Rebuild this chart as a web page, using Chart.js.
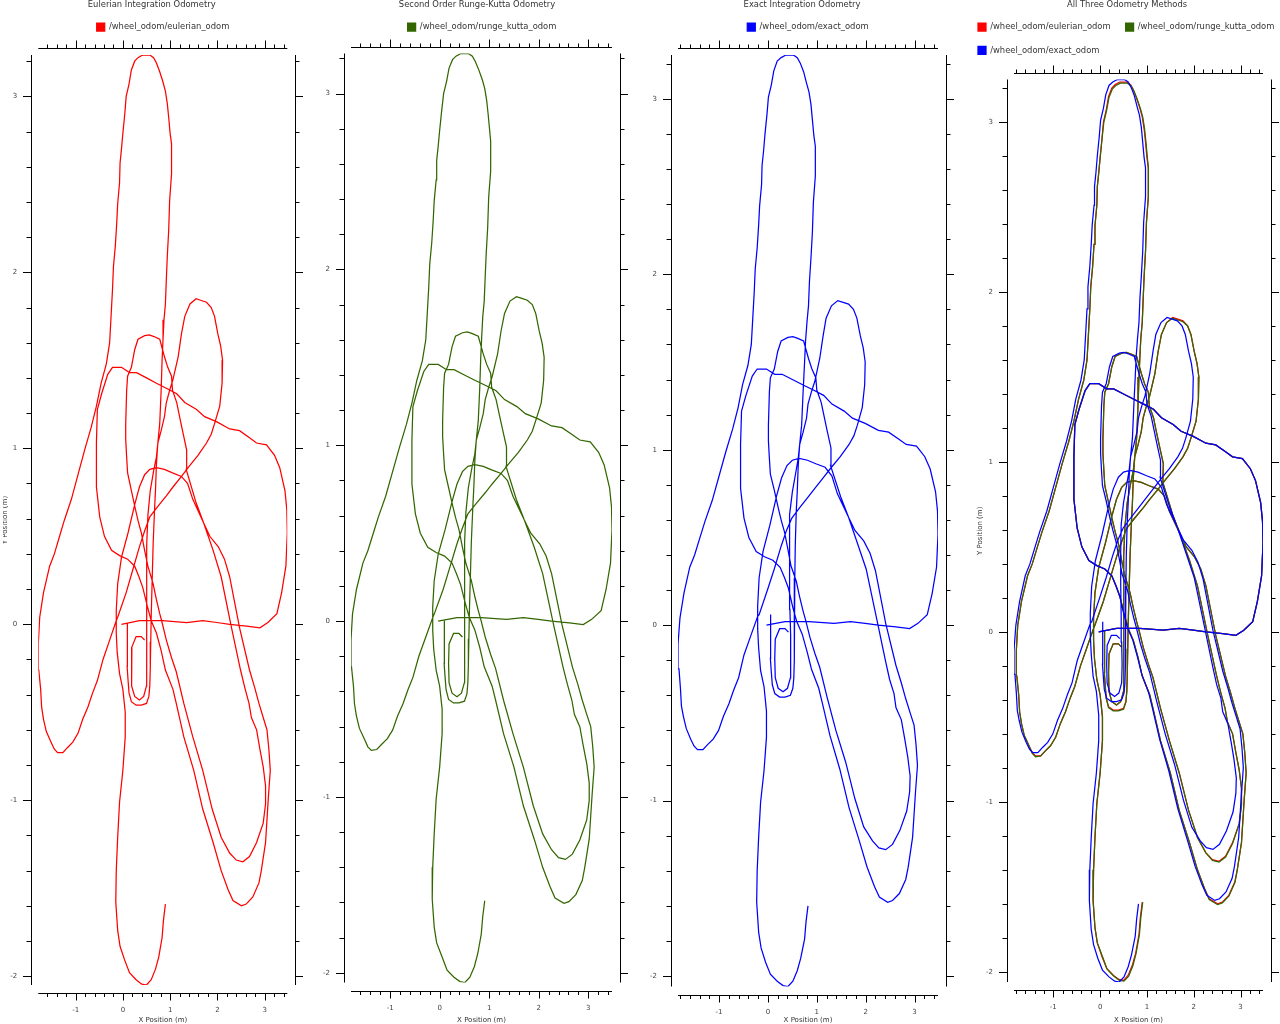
<!DOCTYPE html>
<html><head><meta charset="utf-8">
<script src="https://cdn.jsdelivr.net/npm/chart.js@4.4.1/dist/chart.umd.min.js"></script>
<style>
html,body{margin:0;padding:0;background:#fff;overflow:hidden;width:1280px;height:1024px;}
.panel{position:absolute;top:0;}
canvas{display:block;}
</style></head><body>
<div class="panel" style="left:3px"><canvas id="c1" width="320" height="1024" style="width:320px;height:1024px"></canvas></div>
<div class="panel" style="left:322px"><canvas id="c2" width="320" height="1024" style="width:320px;height:1024px"></canvas></div>
<div class="panel" style="left:648px"><canvas id="c3" width="320" height="1024" style="width:320px;height:1024px"></canvas></div>
<div class="panel" style="left:963px"><canvas id="c4" width="336" height="1024" style="width:336px;height:1024px"></canvas></div>
<script>
// ---- Data (metres); null = pen lift ----
const eulerianOdom = [
[-0.03,0.00],[0.35,0.02],[0.84,0.02],[1.35,0.01],[1.69,0.02],[1.99,0.01],[2.26,0.00],[2.62,-0.01],[2.90,-0.02],[3.07,0.01],[3.26,0.06],[3.36,0.18],[3.45,0.33],[3.48,0.52],[3.47,0.65],[3.43,0.76],[3.32,0.89],[3.21,0.96],[3.04,1.02],[2.83,1.03],[2.68,1.06],[2.47,1.10],[2.26,1.11],[1.99,1.15],[1.73,1.18],[1.56,1.22],[1.31,1.26],[1.14,1.31],[0.93,1.34],[0.71,1.37],[0.50,1.40],[0.29,1.43],[0.14,1.43],[-0.03,1.46],[-0.22,1.46],[-0.32,1.42],[-0.45,1.31],[-0.54,1.22],[-0.56,1.03],[-0.56,0.78],[-0.49,0.61],[-0.39,0.50],[-0.24,0.42],[-0.07,0.39],[0.10,0.37],[0.25,0.33],
[0.34,0.27],[0.42,0.21],[0.52,0.10],[0.60,0.02],[0.71,-0.05],[0.81,-0.15],[0.90,-0.26],[1.06,-0.37],[1.13,-0.45],[1.29,-0.64],[1.50,-0.83],[1.69,-1.05],[1.91,-1.24],[2.08,-1.40],[2.23,-1.51],[2.33,-1.57],[2.51,-1.60],[2.61,-1.59],[2.75,-1.55],[2.88,-1.47],[2.93,-1.40],[3.02,-1.24],[3.05,-1.11],[3.08,-0.98],[3.12,-0.83],[3.09,-0.71],[3.05,-0.60],[2.97,-0.53],[2.88,-0.45],[2.79,-0.36],[2.68,-0.26],[2.47,-0.02],[2.26,0.27],[2.15,0.37],[2.02,0.44],[1.84,0.50],[1.71,0.575],
[1.55,0.69],[1.34,0.88],[1.35,0.99],[1.27,1.09],[1.20,1.18],[1.14,1.26],[1.05,1.33],[1.03,1.41],[0.95,1.46],[0.88,1.52],[0.84,1.56],[0.78,1.62],[0.66,1.635],[0.56,1.645],[0.46,1.64],[0.32,1.62],[0.25,1.56],[0.18,1.46],[0.10,1.41],[0.08,1.33],[0.06,1.14],[0.06,1.05],[0.08,0.95],[0.10,0.86],[0.18,0.76],[0.26,0.66],[0.32,0.59],[0.39,0.52],[0.46,0.42],[0.53,0.33],[0.64,0.23],[0.71,0.14],[0.78,0.06],[0.83,0.01],[0.92,-0.09],[1.03,-0.19],[1.13,-0.27],[1.29,-0.45],[1.48,-0.64],[1.69,-0.83],[1.89,-1.05],[2.08,-1.21],[2.26,-1.30],[2.40,-1.34],[2.54,-1.35],[2.68,-1.32],[2.83,-1.24],[2.97,-1.13],[3.02,-1.02],[3.02,-0.92],[2.97,-0.81],[2.90,-0.71],[2.83,-0.60],[2.72,-0.53],[2.67,-0.45],[2.58,-0.36],[2.49,-0.26],[2.30,-0.02],[2.08,0.27],[1.91,0.42],[1.71,0.575],
[1.48,0.71],[1.37,0.80],[1.24,0.84],[1.05,0.86],[0.88,0.88],[0.71,0.89],[0.57,0.88],[0.46,0.85],[0.35,0.78],[0.25,0.68],[0.11,0.52],[-0.03,0.38],[-0.11,0.23],[-0.14,0.08],[-0.14,0.02],
[-0.28,-0.09],[-0.42,-0.20],[-0.54,-0.32],[-0.64,-0.39],[-0.74,-0.47],[-0.85,-0.54],[-0.95,-0.62],[-1.06,-0.67],[-1.17,-0.70],[-1.27,-0.73],[-1.38,-0.73],[-1.45,-0.71],[-1.52,-0.67],[-1.62,-0.61],[-1.68,-0.54],[-1.72,-0.47],[-1.74,-0.37],[-1.78,-0.26],[-1.79,-0.11],[-1.76,0.04],[-1.68,0.18],[-1.55,0.33],[-1.45,0.40],[-1.34,0.50],[-1.24,0.59],[-1.09,0.71],[-0.92,0.88],[-0.81,0.99],[-0.67,1.12],[-0.56,1.24],[-0.46,1.37],[-0.37,1.46],[-0.35,1.48],[-0.28,1.60],[-0.25,1.75],[-0.22,1.90],[-0.20,2.03],[-0.16,2.15],[-0.13,2.28],[-0.11,2.39],[-0.07,2.51],[-0.06,2.62],[-0.03,2.70],[0.00,2.79],[0.04,2.90],[0.07,3.00],[0.13,3.07],[0.18,3.15],[0.25,3.20],[0.32,3.22],[0.42,3.235],[0.57,3.235],[0.65,3.22],[0.71,3.19],[0.78,3.14],[0.85,3.08],[0.90,3.03],[0.94,2.96],[0.97,2.88],[1.00,2.79],[1.03,2.73],[1.03,2.56],[0.99,2.41],[0.97,2.24],[0.94,2.09],[0.92,1.96],[0.90,1.82],[0.87,1.73],[0.85,1.62],[0.83,1.50],[0.81,1.33],[0.78,1.14],[0.74,1.03],[0.71,0.91],[0.69,0.76],[0.67,0.65],[0.64,0.45],[0.62,0.25],[0.60,0.05],[0.59,-0.10],[0.58,-0.25],[0.57,-0.35],[0.55,-0.41],[0.50,-0.45],[0.39,-0.46],[0.28,-0.46],[0.18,-0.44],[0.13,-0.39],[0.11,-0.32],[0.09,-0.24],[0.09,-0.09],[0.10,0.01],
null,
[0.46,-0.09],[0.39,-0.07],[0.28,-0.07],[0.19,-0.13],[0.18,-0.24],[0.19,-0.35],[0.25,-0.41],[0.35,-0.43],[0.44,-0.41],[0.50,-0.35],[0.51,-0.24],[0.50,-0.11],[0.50,0.05],[0.50,0.25],[0.51,0.45],[0.53,0.62],[0.58,0.76],[0.65,0.87],[0.71,0.95],[0.74,1.03],[0.81,1.10],[0.88,1.18],[0.92,1.26],[0.99,1.33],[1.06,1.39],[1.17,1.52],[1.24,1.65],[1.31,1.75],[1.42,1.82],[1.55,1.85],[1.66,1.84],[1.77,1.83],[1.87,1.80],[1.94,1.75],[2.01,1.65],[2.07,1.58],[2.11,1.50],[2.10,1.37],[2.05,1.24],[1.94,1.14],[1.87,1.08],[1.77,1.03],[1.59,0.96],[1.41,0.90],[1.24,0.84],[1.06,0.78],[0.92,0.73],[0.74,0.67],[0.57,0.61],[0.46,0.53],[0.35,0.44],[0.21,0.31],[0.07,0.18],[-0.11,0.04],[-0.14,0.02],
[-0.14,-0.05],[-0.12,-0.16],[-0.07,-0.28],[0.00,-0.37],[0.05,-0.50],[0.05,-0.64],[0.00,-0.83],[-0.07,-1.01],[-0.11,-1.21],[-0.14,-1.40],[-0.15,-1.58],[-0.11,-1.74],[-0.06,-1.83],[0.04,-1.91],[0.14,-1.98],[0.28,-2.02],[0.40,-2.045],[0.50,-2.05],[0.60,-2.02],[0.69,-1.96],[0.76,-1.89],[0.83,-1.78],[0.86,-1.68],[0.90,-1.59]
];

const rungeKuttaOdom = [
[-0.03,0.00],[0.35,0.02],[0.84,0.02],[1.35,0.01],[1.69,0.02],[1.99,0.01],[2.26,0.00],[2.62,-0.01],[2.90,-0.02],[3.07,0.01],[3.26,0.06],[3.36,0.18],[3.45,0.33],[3.48,0.52],[3.47,0.65],[3.43,0.76],[3.32,0.89],[3.21,0.96],[3.04,1.02],[2.83,1.03],[2.68,1.06],[2.47,1.10],[2.26,1.11],[1.99,1.15],[1.73,1.18],[1.56,1.22],[1.31,1.26],[1.14,1.31],[0.93,1.34],[0.71,1.37],[0.50,1.40],[0.29,1.43],[0.14,1.43],[-0.03,1.46],[-0.22,1.46],[-0.32,1.42],[-0.45,1.31],[-0.54,1.22],[-0.56,1.03],[-0.56,0.78],[-0.49,0.61],[-0.39,0.50],[-0.24,0.42],[-0.07,0.39],[0.10,0.37],[0.25,0.33],
[0.34,0.27],[0.42,0.21],[0.52,0.10],[0.60,0.02],[0.71,-0.05],[0.81,-0.15],[0.90,-0.26],[1.06,-0.37],[1.13,-0.45],[1.29,-0.64],[1.50,-0.83],[1.69,-1.05],[1.91,-1.24],[2.08,-1.40],[2.23,-1.51],[2.33,-1.575],[2.51,-1.605],[2.61,-1.595],[2.75,-1.555],[2.88,-1.475],[2.93,-1.40],[3.02,-1.24],[3.05,-1.11],[3.08,-0.98],[3.12,-0.83],[3.09,-0.71],[3.05,-0.60],[2.97,-0.53],[2.88,-0.45],[2.79,-0.36],[2.68,-0.26],[2.47,-0.02],[2.26,0.27],[2.15,0.37],[2.02,0.44],[1.84,0.50],[1.71,0.575],
[1.55,0.69],[1.34,0.88],[1.35,0.99],[1.27,1.09],[1.20,1.18],[1.14,1.26],[1.05,1.33],[1.03,1.41],[0.95,1.46],[0.88,1.52],[0.84,1.56],[0.78,1.62],[0.66,1.635],[0.56,1.645],[0.46,1.64],[0.32,1.62],[0.25,1.56],[0.18,1.46],[0.10,1.41],[0.08,1.33],[0.06,1.14],[0.06,1.05],[0.08,0.95],[0.10,0.86],[0.18,0.76],[0.26,0.66],[0.32,0.59],[0.39,0.52],[0.46,0.42],[0.53,0.33],[0.64,0.23],[0.71,0.14],[0.78,0.06],[0.83,0.01],[0.92,-0.09],[1.03,-0.19],[1.13,-0.27],[1.29,-0.45],[1.48,-0.64],[1.69,-0.83],[1.89,-1.05],[2.08,-1.21],[2.26,-1.30],[2.40,-1.345],[2.54,-1.355],[2.68,-1.325],[2.83,-1.245],[2.97,-1.13],[3.02,-1.02],[3.02,-0.92],[2.97,-0.81],[2.90,-0.71],[2.83,-0.60],[2.72,-0.53],[2.67,-0.45],[2.58,-0.36],[2.49,-0.26],[2.30,-0.02],[2.08,0.27],[1.91,0.42],[1.71,0.575],
[1.48,0.71],[1.37,0.80],[1.24,0.84],[1.05,0.86],[0.88,0.88],[0.71,0.89],[0.57,0.88],[0.46,0.85],[0.35,0.78],[0.25,0.68],[0.11,0.52],[-0.03,0.38],[-0.11,0.23],[-0.14,0.08],[-0.14,0.02],
[-0.28,-0.09],[-0.42,-0.20],[-0.54,-0.32],[-0.64,-0.39],[-0.74,-0.47],[-0.85,-0.54],[-0.95,-0.62],[-1.06,-0.67],[-1.17,-0.70],[-1.27,-0.73],[-1.38,-0.735],[-1.45,-0.715],[-1.52,-0.67],[-1.62,-0.61],[-1.68,-0.54],[-1.72,-0.47],[-1.74,-0.37],[-1.78,-0.26],[-1.79,-0.11],[-1.76,0.04],[-1.68,0.18],[-1.55,0.33],[-1.45,0.40],[-1.34,0.50],[-1.24,0.59],[-1.09,0.71],[-0.92,0.88],[-0.81,0.99],[-0.67,1.12],[-0.56,1.24],[-0.46,1.37],[-0.37,1.46],[-0.35,1.48],[-0.28,1.60],[-0.25,1.75],[-0.22,1.90],[-0.20,2.03],[-0.16,2.15],[-0.13,2.28],[-0.11,2.39],[-0.07,2.51],[-0.06,2.62],[-0.03,2.70],[0.00,2.79],[0.04,2.90],[0.08,3.00],[0.14,3.07],[0.19,3.145],[0.26,3.193],[0.33,3.213],[0.43,3.228],[0.58,3.228],[0.66,3.213],[0.72,3.183],[0.79,3.135],[0.86,3.08],[0.91,3.03],[0.95,2.96],[0.98,2.88],[1.01,2.79],[1.03,2.73],[1.03,2.56],[0.99,2.41],[0.97,2.24],[0.94,2.09],[0.92,1.96],[0.90,1.82],[0.87,1.73],[0.85,1.62],[0.83,1.50],[0.81,1.33],[0.78,1.14],[0.74,1.03],[0.71,0.91],[0.69,0.76],[0.67,0.65],[0.64,0.45],[0.62,0.25],[0.60,0.05],[0.59,-0.10],[0.58,-0.25],[0.57,-0.35],[0.55,-0.415],[0.50,-0.455],[0.39,-0.465],[0.28,-0.465],[0.18,-0.445],[0.13,-0.39],[0.11,-0.32],[0.09,-0.24],[0.09,-0.09],[0.10,0.01],
null,
[0.46,-0.09],[0.39,-0.07],[0.28,-0.07],[0.19,-0.13],[0.18,-0.24],[0.19,-0.35],[0.25,-0.41],[0.35,-0.43],[0.44,-0.41],[0.50,-0.35],[0.51,-0.24],[0.50,-0.11],[0.50,0.05],[0.50,0.25],[0.51,0.45],[0.53,0.62],[0.58,0.76],[0.65,0.87],[0.71,0.95],[0.74,1.03],[0.81,1.10],[0.88,1.18],[0.92,1.26],[0.99,1.33],[1.06,1.39],[1.17,1.52],[1.24,1.65],[1.31,1.75],[1.42,1.82],[1.55,1.845],[1.66,1.835],[1.77,1.825],[1.87,1.80],[1.94,1.75],[2.01,1.65],[2.07,1.58],[2.11,1.50],[2.10,1.37],[2.05,1.24],[1.94,1.14],[1.87,1.08],[1.77,1.03],[1.59,0.96],[1.41,0.90],[1.24,0.84],[1.06,0.78],[0.92,0.73],[0.74,0.67],[0.57,0.61],[0.46,0.53],[0.35,0.44],[0.21,0.31],[0.07,0.18],[-0.11,0.04],[-0.14,0.02],
[-0.14,-0.05],[-0.12,-0.16],[-0.07,-0.28],[0.00,-0.37],[0.05,-0.50],[0.05,-0.64],[0.00,-0.83],[-0.07,-1.01],[-0.11,-1.21],[-0.14,-1.40],[-0.15,-1.58],[-0.11,-1.74],[-0.06,-1.83],[0.05,-1.91],[0.15,-1.985],[0.29,-2.025],[0.41,-2.05],[0.51,-2.055],[0.61,-2.025],[0.70,-1.965],[0.77,-1.89],[0.84,-1.78],[0.87,-1.68],[0.91,-1.59]
];

const exactOdom = [
[-0.03,0.00],[0.35,0.02],[0.84,0.02],[1.35,0.01],[1.69,0.02],[1.99,0.01],[2.26,0.00],[2.62,-0.01],[2.90,-0.02],[3.07,0.01],[3.26,0.06],[3.36,0.18],[3.45,0.33],[3.48,0.52],[3.47,0.65],[3.43,0.76],[3.32,0.89],[3.21,0.96],[3.04,1.02],[2.83,1.03],[2.68,1.06],[2.47,1.10],[2.26,1.11],[1.99,1.15],[1.73,1.18],[1.56,1.22],[1.31,1.26],[1.14,1.31],[0.93,1.34],[0.71,1.37],[0.50,1.40],[0.29,1.43],[0.14,1.43],[-0.03,1.46],[-0.22,1.46],[-0.32,1.42],[-0.45,1.31],[-0.54,1.22],[-0.56,1.03],[-0.56,0.78],[-0.49,0.61],[-0.39,0.50],[-0.24,0.42],[-0.07,0.39],[0.10,0.37],[0.25,0.33],
[0.34,0.27],[0.42,0.21],[0.51,0.10],[0.59,0.02],[0.70,-0.05],[0.80,-0.15],[0.89,-0.25],[1.04,-0.36],[1.11,-0.44],[1.27,-0.63],[1.47,-0.82],[1.66,-1.04],[1.87,-1.23],[2.03,-1.38],[2.18,-1.49],[2.28,-1.55],[2.45,-1.58],[2.55,-1.57],[2.69,-1.53],[2.82,-1.45],[2.87,-1.38],[2.96,-1.21],[2.99,-1.08],[3.02,-0.95],[3.06,-0.80],[3.03,-0.68],[2.99,-0.57],[2.91,-0.50],[2.82,-0.42],[2.73,-0.33],[2.62,-0.23],[2.41,0.01],[2.20,0.31],[2.09,0.41],[1.96,0.48],[1.78,0.54],[1.65,0.615],
[1.49,0.73],[1.28,0.91],[1.29,1.01],[1.21,1.11],[1.15,1.19],[1.09,1.27],[1.00,1.34],[0.98,1.41],[0.90,1.46],[0.83,1.52],[0.79,1.56],[0.73,1.62],[0.61,1.635],[0.51,1.645],[0.41,1.64],[0.27,1.62],[0.20,1.56],[0.13,1.46],[0.05,1.41],[0.03,1.33],[0.01,1.14],[0.01,1.05],[0.03,0.95],[0.05,0.86],[0.13,0.77],[0.21,0.67],[0.27,0.60],[0.34,0.53],[0.41,0.43],[0.47,0.34],[0.58,0.25],[0.65,0.16],[0.72,0.08],[0.77,0.03],[0.86,-0.07],[0.96,-0.16],[1.06,-0.24],[1.21,-0.41],[1.39,-0.60],[1.59,-0.78],[1.78,-0.99],[1.96,-1.15],[2.14,-1.23],[2.27,-1.27],[2.41,-1.28],[2.55,-1.25],[2.70,-1.17],[2.84,-1.06],[2.90,-0.95],[2.91,-0.86],[2.86,-0.75],[2.80,-0.65],[2.73,-0.54],[2.62,-0.47],[2.58,-0.39],[2.49,-0.31],[2.41,-0.21],[2.23,0.03],[2.01,0.32],[1.84,0.46],[1.65,0.615],
[1.42,0.75],[1.31,0.85],[1.17,0.90],[0.98,0.92],[0.81,0.94],[0.64,0.95],[0.50,0.94],[0.39,0.91],[0.28,0.84],[0.18,0.74],[0.04,0.57],[-0.10,0.42],[-0.18,0.27],[-0.21,0.11],[-0.21,0.05],
[-0.35,-0.06],[-0.49,-0.17],[-0.60,-0.30],[-0.70,-0.37],[-0.80,-0.45],[-0.91,-0.52],[-1.01,-0.60],[-1.12,-0.65],[-1.23,-0.68],[-1.33,-0.71],[-1.44,-0.71],[-1.51,-0.69],[-1.58,-0.65],[-1.67,-0.59],[-1.73,-0.52],[-1.77,-0.46],[-1.79,-0.36],[-1.82,-0.25],[-1.84,-0.11],[-1.80,0.04],[-1.72,0.18],[-1.60,0.33],[-1.50,0.40],[-1.39,0.50],[-1.29,0.59],[-1.14,0.71],[-0.97,0.88],[-0.86,0.99],[-0.72,1.12],[-0.61,1.24],[-0.52,1.37],[-0.43,1.46],[-0.41,1.48],[-0.34,1.60],[-0.31,1.75],[-0.28,1.90],[-0.26,2.03],[-0.22,2.15],[-0.19,2.28],[-0.17,2.39],[-0.13,2.51],[-0.12,2.62],[-0.09,2.70],[-0.06,2.80],[-0.02,2.91],[0.01,3.01],[0.07,3.08],[0.12,3.16],[0.19,3.215],[0.27,3.235],[0.37,3.25],[0.52,3.25],[0.60,3.235],[0.66,3.205],[0.73,3.155],[0.79,3.09],[0.84,3.04],[0.88,2.97],[0.91,2.88],[0.94,2.79],[0.97,2.73],[0.97,2.56],[0.93,2.41],[0.91,2.24],[0.88,2.09],[0.85,1.96],[0.83,1.82],[0.80,1.73],[0.77,1.62],[0.75,1.50],[0.72,1.33],[0.69,1.14],[0.65,1.03],[0.62,0.91],[0.60,0.76],[0.58,0.65],[0.56,0.46],[0.55,0.27],[0.54,0.08],[0.54,-0.06],[0.54,-0.20],[0.53,-0.30],[0.51,-0.36],[0.46,-0.40],[0.35,-0.41],[0.24,-0.41],[0.14,-0.39],[0.09,-0.34],[0.07,-0.27],[0.05,-0.19],[0.05,-0.04],[0.06,0.06],
null,
[0.42,-0.04],[0.35,-0.02],[0.24,-0.02],[0.15,-0.08],[0.14,-0.19],[0.15,-0.30],[0.21,-0.36],[0.31,-0.38],[0.40,-0.36],[0.46,-0.30],[0.47,-0.19],[0.46,-0.06],[0.45,0.09],[0.44,0.28],[0.44,0.47],[0.45,0.63],[0.50,0.76],[0.57,0.87],[0.62,0.95],[0.65,1.03],[0.72,1.10],[0.79,1.18],[0.82,1.26],[0.89,1.33],[0.96,1.39],[1.06,1.52],[1.13,1.65],[1.19,1.75],[1.30,1.82],[1.43,1.85],[1.54,1.84],[1.65,1.83],[1.75,1.80],[1.82,1.75],[1.89,1.65],[1.95,1.58],[1.99,1.50],[1.98,1.37],[1.93,1.24],[1.83,1.14],[1.76,1.08],[1.66,1.03],[1.48,0.96],[1.30,0.90],[1.13,0.84],[0.96,0.78],[0.82,0.73],[0.65,0.67],[0.49,0.61],[0.38,0.54],[0.27,0.45],[0.13,0.32],[-0.01,0.20],[-0.18,0.06],[-0.21,0.05],
[-0.21,-0.02],[-0.19,-0.13],[-0.15,-0.26],[-0.08,-0.35],[-0.03,-0.49],[-0.03,-0.64],[-0.08,-0.83],[-0.15,-1.01],[-0.19,-1.21],[-0.22,-1.40],[-0.23,-1.58],[-0.19,-1.75],[-0.14,-1.84],[-0.05,-1.92],[0.05,-1.99],[0.19,-2.03],[0.31,-2.055],[0.41,-2.06],[0.51,-2.03],[0.60,-1.97],[0.67,-1.90],[0.75,-1.79],[0.78,-1.69],[0.82,-1.60]
];

const seriesLabels = ['/wheel_odom/eulerian_odom','/wheel_odom/runge_kutta_odom','/wheel_odom/exact_odom'];
const seriesColors = ['#ff0000','#336600','#0000ff'];
const panelTitles = ['Eulerian Integration Odometry','Second Order Runge-Kutta Odometry','Exact Integration Odometry','All Three Odometry Methods'];
const xAxisTitle = 'X Position (m)';
const yAxisTitle = 'Y Position (m)';

// ---- Rendering ----
const FONT = 'DejaVu Sans';
Chart.defaults.font.family = FONT;

const qwtAxes = {
  id: 'qwtAxes',
  afterDraw(chart, args, opts) {
    const ctx = chart.ctx, a = chart.chartArea;
    const xs = chart.scales.xTop, ys = chart.scales.yRight;
    const topY = Math.round(a.top - 7) + 0.5;
    const botY = Math.round(a.bottom + 8) + 0.5;
    const leftX = Math.round(a.left - 7) + 0.5;
    const rightX = Math.round(a.right + 8) + 0.5;
    const isMajor = v => Math.abs(v - Math.round(v)) < 1e-6;
    ctx.save();
    ctx.strokeStyle = '#000';
    ctx.lineWidth = 1;
    ctx.beginPath();
    ctx.moveTo(a.left, topY); ctx.lineTo(a.right, topY);
    ctx.moveTo(a.left, botY); ctx.lineTo(a.right, botY);
    ctx.moveTo(leftX, a.top); ctx.lineTo(leftX, a.bottom);
    ctx.moveTo(rightX, a.top); ctx.lineTo(rightX, a.bottom);
    xs.ticks.forEach(t => {
      const px = Math.round(xs.getPixelForValue(t.value)) + 0.5;
      const m = isMajor(t.value);
      ctx.moveTo(px, topY); ctx.lineTo(px, topY - (m ? 8 : 4));
      ctx.moveTo(px, botY); ctx.lineTo(px, botY + (m ? 7 : 3.5));
    });
    ys.ticks.forEach(t => {
      const py = Math.round(ys.getPixelForValue(t.value)) + 0.5;
      const m = isMajor(t.value);
      ctx.moveTo(leftX, py); ctx.lineTo(leftX - (m ? 8.5 : 5), py);
      ctx.moveTo(rightX, py); ctx.lineTo(rightX + (m ? 7.5 : 4), py);
    });
    ctx.stroke();
    ctx.fillStyle = '#333';
    ctx.font = '8.4px "' + FONT + '"';
    ctx.textAlign = 'center';
    ctx.textBaseline = 'middle';
    ctx.fillText(opts.title, opts.titleX, 5);
    ctx.restore();
  }
};

function toPoints(arr) {
  return arr.map(p => p ? {x: p[0], y: p[1]} : {x: null, y: null});
}

function makeChart(id, cfg) {
  const all = cfg.series.flatMap(s => s.data.filter(p => p));
  const xmin = Math.min(...all.map(p => p[0])), xmax = Math.max(...all.map(p => p[0]));
  const ymin = Math.min(...all.map(p => p[1])), ymax = Math.max(...all.map(p => p[1]));
  const hidden = {grid: {display: false, drawTicks: false}, border: {display: false}};
  return new Chart(document.getElementById(id), {
    type: 'scatter',
    data: {
      datasets: cfg.series.map(s => ({
        label: s.label, data: toPoints(s.data), order: s.order,
        showLine: true, borderColor: s.color, backgroundColor: s.color,
        borderWidth: 1.25, pointRadius: 0, pointHoverRadius: 0, tension: 0, spanGaps: false
      }))
    },
    options: {
      responsive: false, animation: false, events: [],
      layout: {padding: {top: 7.8, left: 0, right: 0, bottom: 0}, autoPadding: false},
      plugins: {
        title: {display: false},
        tooltip: {enabled: false},
        legend: {
          display: true, position: 'top', align: cfg.legendAlign,
          labels: {boxWidth: 8, boxHeight: 8, padding: 15, color: '#333',
                   font: {size: 8.4, family: FONT},
                   sort: (a, b) => a.datasetIndex - b.datasetIndex}
        },
        qwtAxes: {title: cfg.title, titleX: cfg.titleX}
      },
      scales: {
        x: {type: 'linear', position: 'bottom', min: xmin, max: xmax, ...hidden,
            afterFit: s => { s.height = cfg.bottomH; },
            ticks: {stepSize: 1, includeBounds: false, padding: 21, color: '#444',
                    font: {size: 7, family: FONT}, maxRotation: 0, autoSkip: false},
            title: {display: true, text: xAxisTitle, color: '#333', font: {size: 7, family: FONT}, padding: 0}},
        xTop: {type: 'linear', position: 'top', min: xmin, max: xmax, ...hidden,
            afterFit: s => { s.height = cfg.topH; },
            ticks: {display: false, stepSize: 0.2, includeBounds: false, maxTicksLimit: 1000}},
        y: {type: 'linear', position: 'left', min: ymin, max: ymax, ...hidden,
            afterFit: s => { s.width = cfg.leftW; },
            ticks: {stepSize: 1, includeBounds: false, padding: 21, color: '#444',
                    font: {size: 7, family: FONT}, autoSkip: false},
            title: {display: cfg.yTitle, text: yAxisTitle, color: '#333', font: {size: 7, family: FONT},
                    padding: {top: cfg.yTitlePad, bottom: 0}}},
        yRight: {type: 'linear', position: 'right', min: ymin, max: ymax, ...hidden,
            afterFit: s => { s.width = cfg.rightW; },
            ticks: {display: false, stepSize: 0.2, includeBounds: false, maxTicksLimit: 1000}}
      }
    },
    plugins: [qwtAxes]
  });
}

makeChart('c1', {
  title: panelTitles[0], titleX: 148.7, legendAlign: 'center',
  leftW: 35.3, rightW: 35.7, topH: 13.8, bottomH: 39, yTitle: true, yTitlePad: -2.2,
  series: [{label: seriesLabels[0], data: eulerianOdom, color: seriesColors[0], order: 0}]
});
makeChart('c2', {
  title: panelTitles[1], titleX: 155, legendAlign: 'center',
  leftW: 29, rightW: 30, topH: 12.3, bottomH: 41.5, yTitle: false, yTitlePad: 0,
  series: [{label: seriesLabels[1], data: rungeKuttaOdom, color: seriesColors[1], order: 0}]
});
makeChart('c3', {
  title: panelTitles[2], titleX: 154, legendAlign: 'center',
  leftW: 30, rightW: 30, topH: 13.8, bottomH: 37.5, yTitle: false, yTitlePad: 0,
  series: [{label: seriesLabels[2], data: exactOdom, color: seriesColors[2], order: 0}]
});
makeChart('c4', {
  title: panelTitles[3], titleX: 164, legendAlign: 'start',
  leftW: 51, rightW: 36, topH: 14.9, bottomH: 42, yTitle: true, yTitlePad: 12.8,
  series: [
    {label: seriesLabels[0], data: eulerianOdom, color: seriesColors[0], order: 2},
    {label: seriesLabels[1], data: rungeKuttaOdom, color: seriesColors[1], order: 1},
    {label: seriesLabels[2], data: exactOdom, color: seriesColors[2], order: 0}
  ]
});
</script>
</body></html>
